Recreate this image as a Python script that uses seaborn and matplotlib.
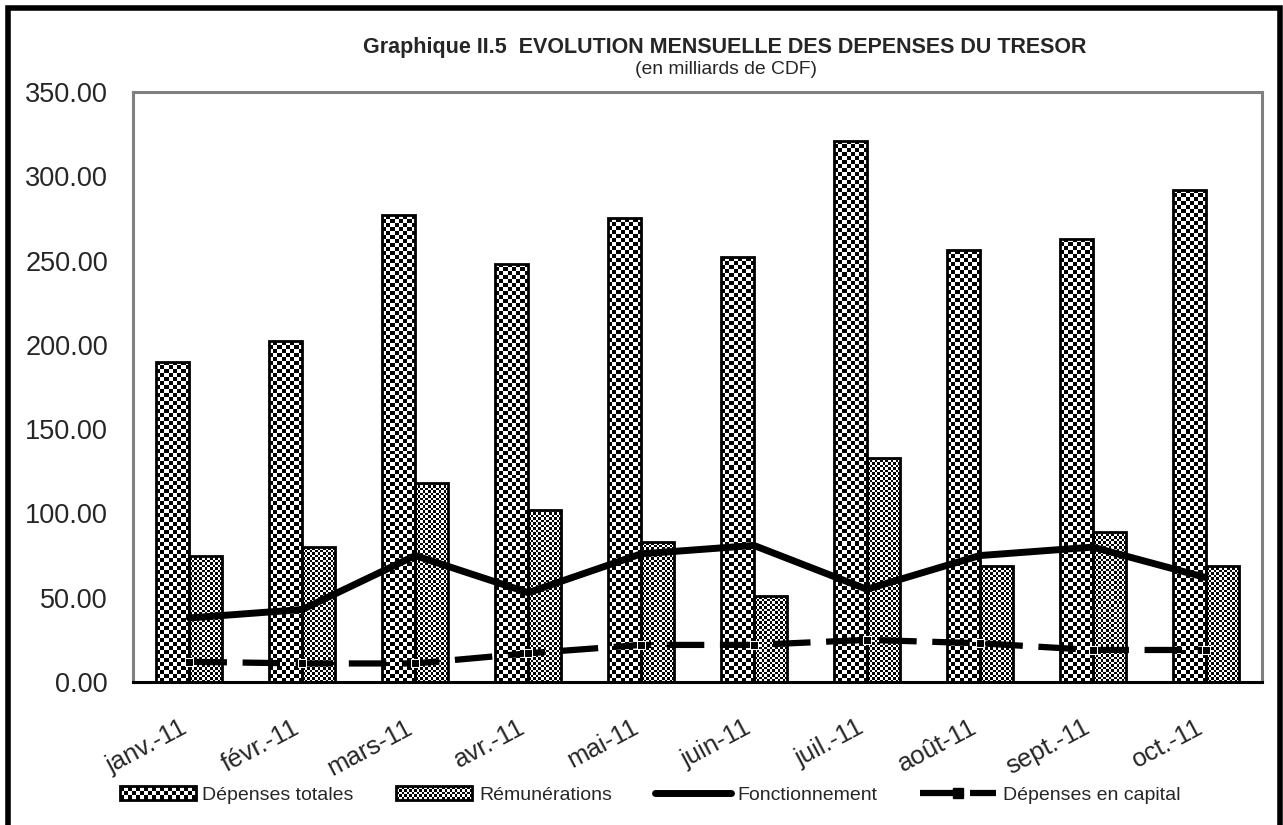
import numpy as np
import pandas as pd
import matplotlib
matplotlib.use("Agg")
import matplotlib.pyplot as plt
import seaborn as sns
from matplotlib.patches import Rectangle, Patch
from matplotlib.lines import Line2D
from matplotlib.legend_handler import HandlerBase
from matplotlib.ticker import FuncFormatter
from matplotlib.transforms import ScaledTranslation

mois = ["janv.-11", "févr.-11", "mars-11", "avr.-11", "mai-11",
        "juin-11", "juil.-11", "août-11", "sept.-11", "oct.-11"]
depenses_totales = [190, 202, 277, 248, 275, 252, 321, 256, 263, 292]
remunerations = [75, 80, 118, 102, 83, 51, 133, 69, 89, 69]
fonctionnement = [38, 43, 75, 53, 76, 81, 55, 75, 80, 62]
capital = [12, 11, 11, 17, 22, 22, 25, 23, 19, 19]

series_barres = ["Dépenses totales", "Rémunérations"]

df = pd.DataFrame({
    "mois": mois * 2,
    "serie": [series_barres[0]] * len(mois) + [series_barres[1]] * len(mois),
    "valeur": depenses_totales + remunerations,
})

sns.set_style("white")
plt.rcParams["font.family"] = ["Liberation Sans", "DejaVu Sans"]

fig = plt.figure(figsize=(12.83, 8.25), dpi=100)
ax = fig.add_axes([133 / 1283, 1 - 682 / 825, (1262 - 133) / 1283, (682 - 92) / 825])

sns.barplot(
    data=df, x="mois", y="valeur", hue="serie",
    palette=["white", "white"], edgecolor="black", linewidth=2,
    width=0.585, gap=0, legend=False, ax=ax
)

ax.set_xlim(-0.5, len(mois) - 0.5)
ax.set_ylim(0, 350)

# damier dans chaque barre (pixels par case)
cells = [4.0, 2.5]


def checker(bar, cell_px):
    x0, y0 = bar.get_x(), bar.get_y()
    w, h = bar.get_width(), bar.get_height()
    p0 = ax.transData.transform((x0, y0))
    p1 = ax.transData.transform((x0 + w, y0 + h))
    nx = max(1, int(round((p1[0] - p0[0]) / cell_px)))
    ny = max(1, int(round((p1[1] - p0[1]) / cell_px)))
    grid = np.indices((ny, nx)).sum(axis=0) % 2
    im = ax.imshow(grid, cmap="Greys", vmin=0, vmax=1, origin="lower",
                   extent=(x0, x0 + w, y0, y0 + h), aspect="auto",
                   interpolation="nearest", zorder=1.5)
    im.set_clip_path(bar)
    bar.set_facecolor("none")
    bar.set_zorder(2)


for cont, c in zip(ax.containers, cells):
    for bar in cont:
        checker(bar, c)

sns.lineplot(x=mois, y=fonctionnement, color="black", linewidth=5,
             sort=False, ax=ax, zorder=3)
sns.lineplot(x=mois, y=capital, color="black", linewidth=4.5,
             linestyle=(0, (6, 2.5)), marker="s", markersize=6,
             sort=False, ax=ax, zorder=3)

ax.set_xlim(-0.5, len(mois) - 0.5)
ax.set_ylim(0, 350)
ax.set_xlabel("")
ax.set_ylabel("")

for side in ["top", "right", "left"]:
    ax.spines[side].set_color("#808080")
    ax.spines[side].set_linewidth(2.2)
ax.spines["bottom"].set_color("black")
ax.spines["bottom"].set_linewidth(2.2)

ax.set_yticks(range(0, 351, 50))
ax.yaxis.set_major_formatter(FuncFormatter(lambda v, p: f"{v:.2f}"))
ax.tick_params(axis="y", direction="inout", length=10, width=1.5,
               labelsize=19.5, pad=13, color="black")
ax.set_xticks(np.arange(-0.5, len(mois)), minor=True)
ax.tick_params(axis="x", which="minor", direction="out", length=7, width=1.5,
               color="black")
ax.tick_params(axis="x", which="major", length=0, labelsize=18.5, pad=24)
shift = ScaledTranslation(-10 / 100, 0, fig.dpi_scale_trans)
for lab in ax.get_xticklabels():
    lab.set_rotation(28)
    lab.set_ha("right")
    lab.set_va("top")
    lab.set_rotation_mode("anchor")
    lab.set_transform(lab.get_transform() + shift)


class CheckerHandler(HandlerBase):
    def __init__(self, cell):
        super().__init__()
        self.cell = cell

    def create_artists(self, legend, orig_handle, xdescent, ydescent,
                       width, height, fontsize, trans):
        x0, y0 = -xdescent, -ydescent
        nx = max(1, int(round(width / self.cell)))
        ny = max(1, int(round(height / self.cell)))
        cw, ch = width / nx, height / ny
        arts = [Rectangle((x0, y0), width, height, facecolor="white",
                          edgecolor="none", transform=trans)]
        for i in range(nx):
            for j in range(ny):
                if (i + j) % 2 == 0:
                    arts.append(Rectangle((x0 + i * cw, y0 + j * ch), cw, ch,
                                          facecolor="black", edgecolor="none",
                                          transform=trans))
        arts.append(Rectangle((x0, y0), width, height, facecolor="none",
                              edgecolor="black", lw=2, transform=trans))
        return arts


h1 = Patch(facecolor="white", edgecolor="black")
h2 = Patch(facecolor="white", edgecolor="black")
h3 = Line2D([], [], color="black", lw=5)
h4 = Line2D([], [], color="black", lw=4.5, ls=(0, (5.5, 2.5)), marker="s",
            markersize=7)
fig.legend(
    handles=[h1, h2, h3, h4],
    labels=["Dépenses totales", "Rémunérations", "Fonctionnement",
            "Dépenses en capital"],
    handler_map={h1: CheckerHandler(2.9), h2: CheckerHandler(1.8)},
    loc="center", bbox_to_anchor=(650 / 1283, 1 - 795 / 825), ncol=4,
    frameon=False, fontsize=14, handlelength=3.9, handletextpad=0.35,
    columnspacing=2.2
)

fig.text(725 / 1283, 1 - 47 / 825,
         "Graphique II.5  EVOLUTION MENSUELLE DES DEPENSES DU TRESOR",
         ha="center", va="center", fontsize=15.5, fontweight="bold")
fig.text(726 / 1283, 1 - 70 / 825, "(en milliards de CDF)",
         ha="center", va="center", fontsize=13.9)

# cadre extérieur du graphique
fig.patches.append(Rectangle((8 / 1283, -0.1), (1280 - 8) / 1283, 0.1 + 1 - 8 / 825,
                             transform=fig.transFigure, fill=False,
                             edgecolor="black", lw=4))

fig.savefig("out.png", dpi=100)
